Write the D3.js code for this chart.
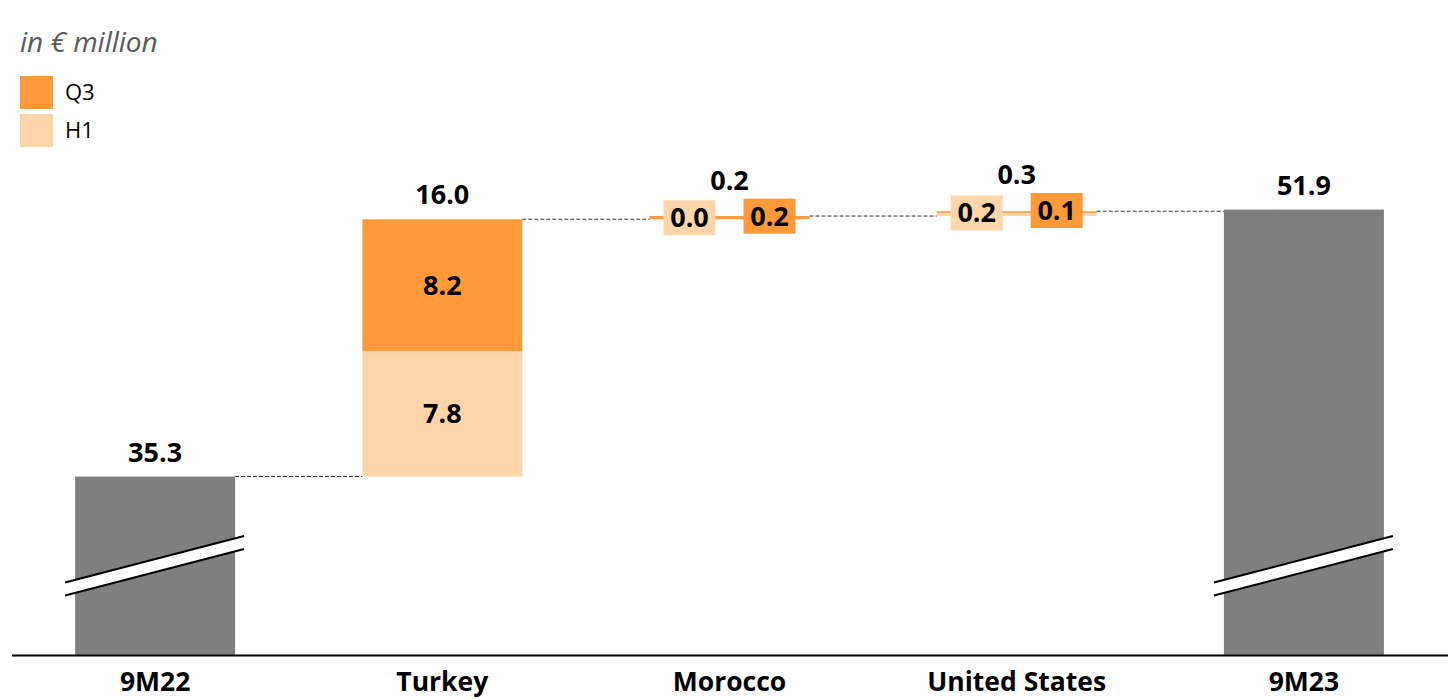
<!DOCTYPE html>
<html>
<head>
<meta charset="utf-8">
<script src="https://cdn.jsdelivr.net/npm/d3@7"></script>
<style>
  html, body { margin: 0; padding: 0; background: #ffffff; }
  svg { display: block; font-family: "Open Sans", "DejaVu Sans", sans-serif; }
</style>
</head>
<body>
<svg id="chart" width="1453" height="700"></svg>
<script>
// Waterfall: 9M22 -> country contributions (H1 + Q3) -> 9M23, in € million
const categories = ["9M22", "Turkey", "Morocco", "United States", "9M23"];
const startValue = 35.3;
const endValue = 51.9;
const deltaCategories = ["Turkey", "Morocco", "United States"];
const h1Values = [7.8, 0.0, 0.2];
const q3Values = [8.2, 0.2, 0.1];
const deltaTotals = [16.0, 0.2, 0.3];
const legendItems = ["Q3", "H1"];
// axis break drawn on the two total bars (value levels of the slanted cut)
const breakLevels = [28.3, 31.2];

const colors = { Q3: "#FF9A3A", H1: "#FFD5AA", total: "#7F7F7F" };
const fmt = d3.format(".1f");

const svg = d3.select("#chart");
const baseY = 655;

const x = d3.scaleBand()
  .domain(categories)
  .range([11.5, 1447.5])
  .paddingInner(0.443)
  .paddingOuter(0.2215);

const y = d3.scaleLinear()
  .domain([24.2, 52.0])
  .range([baseY, 208]);

// Title
svg.append("text")
  .attr("x", 20).attr("y", 52)
  .attr("font-size", 28).attr("font-style", "italic")
  .attr("fill", "#595959")
  .text("in € million");

// Legend
const legend = svg.append("g");
legendItems.forEach((k, i) => {
  const gy = 76 + i * 38;
  legend.append("rect")
    .attr("x", 20).attr("y", gy).attr("width", 33).attr("height", 33)
    .attr("fill", colors[k]);
  legend.append("text")
    .attr("x", 65).attr("y", gy + 16.5).attr("dy", "0.35em")
    .attr("font-size", 22).attr("fill", "#000")
    .text(k);
});

// Build the stacked deltas
const segments = [];
let running = startValue;
const levels = [startValue];
deltaCategories.forEach((c, i) => {
  const base = running;
  segments.push({ cat: c, key: "H1", y0: base, y1: base + h1Values[i], v: h1Values[i] });
  segments.push({ cat: c, key: "Q3", y0: base + h1Values[i], y1: base + h1Values[i] + q3Values[i], v: q3Values[i] });
  running = base + deltaTotals[i];
  levels.push(running);
});

const bw = x.bandwidth();
const chart = svg.append("g");

// Total bars
const totals = [{ cat: "9M22", v: startValue }, { cat: "9M23", v: endValue }];
chart.selectAll("rect.total").data(totals).join("rect")
  .attr("class", "total")
  .attr("x", d => x(d.cat)).attr("width", bw)
  .attr("y", d => y(d.v)).attr("height", d => baseY - y(d.v))
  .attr("fill", colors.total);

// Delta segments
chart.selectAll("rect.seg").data(segments).join("rect")
  .attr("class", "seg")
  .attr("x", d => x(d.cat)).attr("width", bw)
  .attr("y", d => y(d.y1)).attr("height", d => Math.max(0, y(d.y0) - y(d.y1)))
  .attr("fill", d => colors[d.key]);

// Dashed connectors between consecutive bars
const connectors = categories.slice(0, -1).map((c, i) => ({
  from: c, to: categories[i + 1], v: levels[i]
}));
chart.selectAll("line.conn").data(connectors).join("line")
  .attr("class", "conn")
  .attr("x1", d => x(d.from) + bw).attr("x2", d => x(d.to))
  .attr("y1", d => y(d.v)).attr("y2", d => y(d.v))
  .attr("stroke", "#333").attr("stroke-width", 1)
  .attr("stroke-dasharray", "4,2");

// Axis break on total bars
totals.forEach(d => {
  const x0 = x(d.cat) - 10, x1 = x(d.cat) + bw + 9;
  const yL = y(breakLevels[0]), yR = y(breakLevels[1]);
  const gap = 13;
  chart.append("polygon")
    .attr("points", [[x0, yL - gap / 2], [x1, yR - gap / 2], [x1, yR + gap / 2], [x0, yL + gap / 2]].join(" "))
    .attr("fill", "#fff");
  [-gap / 2, gap / 2].forEach(o => {
    chart.append("line")
      .attr("x1", x0).attr("y1", yL + o).attr("x2", x1).attr("y2", yR + o)
      .attr("stroke", "#000").attr("stroke-width", 2);
  });
});

// Segment labels
const labelSize = 27;
const boxW = 52, boxH = 35;
const boxTops = {};
segments.forEach(d => {
  const hPx = y(d.y0) - y(d.y1);
  const cx = x(d.cat) + bw / 2;
  const midY = (y(d.y0) + y(d.y1)) / 2;
  if (hPx >= 40) {
    chart.append("text")
      .attr("x", cx).attr("y", midY).attr("dy", "0.35em")
      .attr("text-anchor", "middle")
      .attr("font-size", labelSize).attr("font-weight", "bold")
      .text(fmt(d.v));
  } else {
    const bx = cx + (d.key === "H1" ? -40 : 40);
    const by = midY - 1.5;
    chart.append("rect")
      .attr("x", bx - boxW / 2).attr("y", by - boxH / 2)
      .attr("width", boxW).attr("height", boxH)
      .attr("fill", colors[d.key]);
    chart.append("text")
      .attr("x", bx).attr("y", by).attr("dy", "0.35em")
      .attr("text-anchor", "middle")
      .attr("font-size", labelSize).attr("font-weight", "bold")
      .text(fmt(d.v));
    boxTops[d.cat] = Math.min(boxTops[d.cat] ?? Infinity, by - boxH / 2);
  }
});

// Total labels
const topLabels = [
  { cat: "9M22", v: startValue, top: y(startValue) },
  ...deltaCategories.map((c, i) => ({ cat: c, v: deltaTotals[i], top: y(levels[i + 1]) })),
  { cat: "9M23", v: endValue, top: y(endValue) }
];
chart.selectAll("text.total").data(topLabels).join("text")
  .attr("class", "total")
  .attr("x", d => x(d.cat) + bw / 2)
  .attr("y", d => boxTops[d.cat] !== undefined ? boxTops[d.cat] - 9 : d.top - 15)
  .attr("text-anchor", "middle")
  .attr("font-size", labelSize).attr("font-weight", "bold")
  .text(d => fmt(d.v));

// Category axis
const axis = svg.append("g")
  .attr("transform", `translate(0,${baseY})`)
  .call(d3.axisBottom(x).tickSize(0).tickPadding(17));
axis.select(".domain").attr("stroke", "#000").attr("stroke-width", 2);
axis.selectAll("text")
  .attr("font-size", 26.5).attr("font-weight", "bold")
  .attr("fill", "#000")
  .style("font-family", "'Open Sans', sans-serif");
</script>
</body>
</html>
